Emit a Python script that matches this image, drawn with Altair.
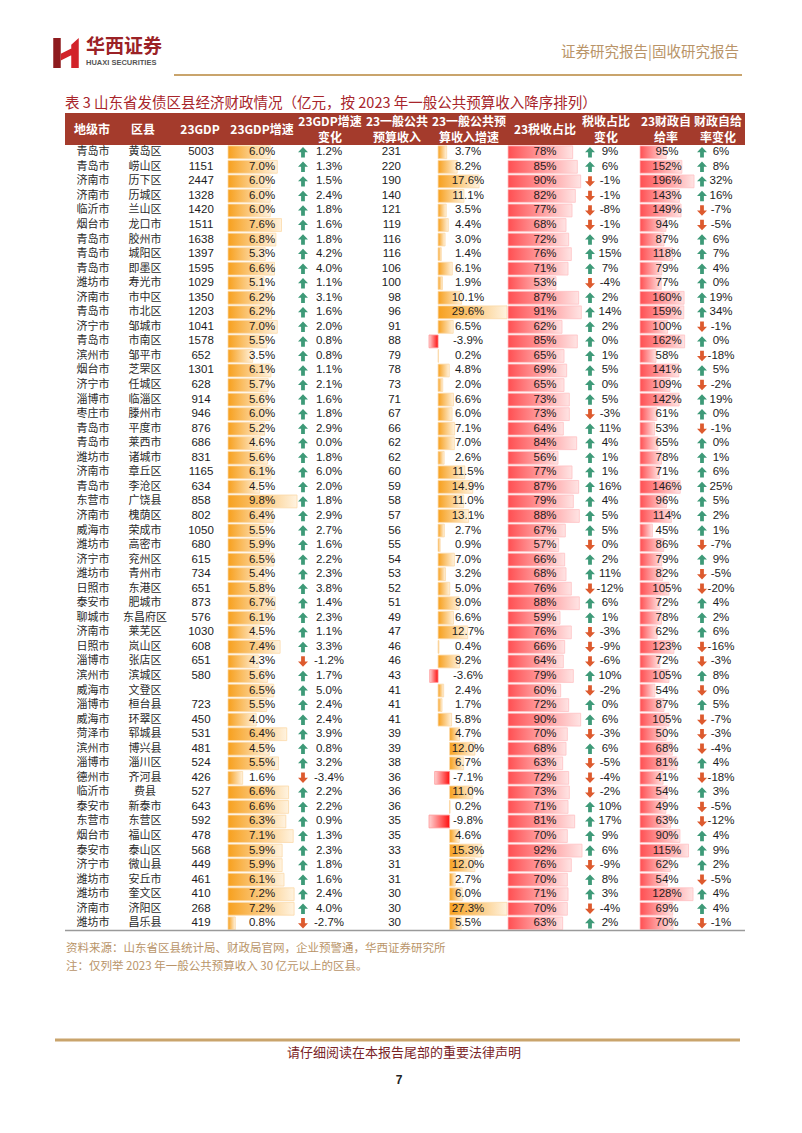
import math
import altair as alt
import pandas as pd

cities = ["青岛市","青岛市","济南市","济南市","临沂市","烟台市","青岛市","青岛市","青岛市","潍坊市",
          "济南市","青岛市","济宁市","青岛市","滨州市","烟台市","济宁市","淄博市","枣庄市","青岛市",
          "青岛市","潍坊市","济南市","青岛市","东营市","济南市","威海市","潍坊市","济宁市","潍坊市",
          "日照市","泰安市","聊城市","济南市","日照市","淄博市","滨州市","威海市","淄博市","威海市",
          "菏泽市","滨州市","淄博市","德州市","临沂市","泰安市","东营市","烟台市","泰安市","济宁市",
          "潍坊市","潍坊市","济南市","潍坊市"]
counties = ["黄岛区","崂山区","历下区","历城区","兰山区","龙口市","胶州市","城阳区","即墨区","寿光市",
            "市中区","市北区","邹城市","市南区","邹平市","芝罘区","任城区","临淄区","滕州市","平度市",
            "莱西市","诸城市","章丘区","李沧区","广饶县","槐荫区","荣成市","高密市","兖州区","青州市",
            "东港区","肥城市","东昌府区","莱芜区","岚山区","张店区","滨城区","文登区","桓台县","环翠区",
            "郓城县","博兴县","淄川区","齐河县","费县","新泰市","东营区","福山区","泰山区","微山县",
            "安丘市","奎文区","济阳区","昌乐县"]
gdp = [5003,1151,2447,1328,1420,1511,1638,1397,1595,1029,
       1350,1203,1041,1578,652,1301,628,914,946,876,
       686,831,1165,634,858,802,1050,680,615,734,
       651,873,576,1030,608,651,580,None,723,450,
       531,481,524,426,527,643,592,478,568,449,
       461,410,268,419]
gdp_growth = [6.0,7.0,6.0,6.0,6.0,7.6,6.8,5.3,6.6,5.1,
              6.2,6.2,7.0,5.5,3.5,6.1,5.7,5.6,6.0,5.2,
              4.6,5.6,6.1,4.5,9.8,6.4,5.5,5.9,6.5,5.4,
              5.8,6.7,6.1,4.5,7.4,4.3,5.6,6.5,5.5,4.0,
              6.4,4.5,5.5,1.6,6.6,6.6,6.3,7.1,5.9,5.9,
              6.1,7.2,7.2,0.8]
gdp_growth_chg = [1.2,1.3,1.5,2.4,1.8,1.6,1.8,4.2,4.0,1.1,
                  3.1,1.6,2.0,0.8,0.8,1.1,2.1,1.6,1.8,2.9,
                  0.0,1.8,6.0,2.0,1.8,2.9,2.7,1.6,2.2,2.3,
                  3.8,1.4,2.3,1.1,3.3,-1.2,1.7,5.0,2.4,2.4,
                  3.9,0.8,3.2,-3.4,2.2,2.2,0.9,1.3,2.3,1.8,
                  1.6,2.4,4.0,-2.7]
revenue = [231,220,190,140,121,119,116,116,106,100,
           98,96,91,88,79,78,73,71,67,66,
           62,62,60,59,58,57,56,55,54,53,
           52,51,49,47,46,46,43,41,41,41,
           39,39,38,36,36,36,35,35,33,31,
           31,30,30,30]
revenue_growth = [3.7,8.2,17.6,11.1,3.5,4.4,3.0,1.4,6.1,1.9,
                  10.1,29.6,6.5,-3.9,0.2,4.8,2.0,6.6,6.0,7.1,
                  7.0,2.6,11.5,14.9,11.0,13.1,2.7,0.9,7.0,3.2,
                  5.0,9.0,6.6,12.7,0.4,9.2,-3.6,2.4,1.7,5.8,
                  4.7,12.0,6.7,-7.1,11.0,0.2,-9.8,4.6,15.3,12.0,
                  2.7,6.0,27.3,5.5]
tax_share = [78,85,90,82,77,68,72,76,71,53,
             87,91,62,85,65,69,65,73,73,64,
             84,56,77,87,79,88,67,57,66,68,
             76,88,59,76,66,64,79,60,72,90,
             70,68,63,72,73,71,81,70,92,76,
             70,71,70,63]
tax_share_chg = [9,6,-1,-1,-8,-1,9,15,7,-4,
                 2,14,2,0,1,5,0,5,-3,11,
                 4,1,1,16,4,5,5,-0.0,2,11,
                 -12,6,1,-3,-9,-6,10,-2,0,6,
                 -3,6,-5,-4,-2,10,17,9,6,-9,
                 8,3,-4,2]
self_suff = [95,152,196,143,149,94,87,118,79,77,
             160,159,100,162,58,141,109,142,61,53,
             65,78,71,146,96,114,45,86,79,82,
             105,72,78,62,123,72,105,54,87,105,
             50,68,81,41,54,49,63,90,115,62,
             54,128,69,70]
self_suff_chg = [6,8,32,16,-7,-5,6,7,4,0,
                 19,34,-1,0,-18,5,-2,19,0,-1,
                 0,1,6,25,5,2,1,-7,9,-5,
                 -20,4,2,6,-16,-3,8,-0.0,5,-7,
                 -3,-4,4,-18,3,-5,-12,4,9,2,
                 -5,4,4,-1]

header_labels = [["地级市"], ["区县"], ["23GDP"], ["23GDP增速"], ["23GDP增速", "变化"],
                 ["23一般公共", "预算收入"], ["23一般公共预", "算收入增速"], ["23税收占比"],
                 ["税收占比", "变化"], ["23财政自", "给率"], ["财政自给", "率变化"]]

title_text = "表 3  山东省发债区县经济财政情况（亿元，按 2023 年一般公共预算收入降序排列）"
source_text = "资料来源：山东省区县统计局、财政局官网，企业预警通，华西证券研究所"
note_text = "注：仅列举 2023 年一般公共预算收入 30 亿元以上的区县。"
footer_text = "请仔细阅读在本报告尾部的重要法律声明"
page_no = "7"
brand_cn = "华西证券"
brand_en = "HUAXI SECURITIES"
report_type = "证券研究报告|固收研究报告"

# ---------------- layout / style ----------------
W, H = 786, 1110


def P(v):
    """page pixel -> chart pixel (page has an 8px margin)"""
    return v - 8


NUM_FONT = "Liberation Sans"
CJK_FONT = "Noto Sans CJK SC"
TXT = "#1d1d1d"
HDR = "#A43B2C"
TAN = "#B99468"
GREEN = "#3E9A78"
RED_ARROW = "#DD5A2E"

n = len(counties)
idx = list(range(n))
SPLIT = 40  # the conditional formatting of the source uses two ranges


def pct1(v):
    return f"{v:.1f}%"


def pct0(v):
    return f"{abs(v) if v == 0 else v:.0f}%"


def direction(v):
    return "up" if (v > 0 or (v == 0 and math.copysign(1, v) > 0)) else "down"


df = pd.DataFrame({
    "i": idx,
    "city": cities,
    "county": counties,
    "gdp_lbl": ["" if g is None else str(g) for g in gdp],
    "gg": gdp_growth,
    "gg_lbl": [pct1(v) for v in gdp_growth],
    "gc_lbl": [pct1(v) for v in gdp_growth_chg],
    "gc_dir": [direction(v) for v in gdp_growth_chg],
    "rev_lbl": [str(v) for v in revenue],
    "rg": revenue_growth,
    "rg_lbl": [pct1(v) for v in revenue_growth],
    "ts": tax_share,
    "ts_lbl": [f"{v}%" for v in tax_share],
    "tc_lbl": [pct0(v) for v in tax_share_chg],
    "tc_dir": [direction(v) for v in tax_share_chg],
    "ss": self_suff,
    "ss_lbl": [f"{v}%" for v in self_suff],
    "sc_lbl": [pct0(v) for v in self_suff_chg],
    "sc_dir": [direction(v) for v in self_suff_chg],
})
g1 = df[df.i < SPLIT]
g2 = df[df.i >= SPLIT]

YS = alt.Scale(domain=idx, range=[P(145), P(930.6)], paddingInner=0.12, paddingOuter=0.06)
Y = alt.Y("i:O", scale=YS, axis=None)


def grad(c0, c1):
    return alt.LinearGradient(gradient="linear",
                              stops=[alt.GradientStop(color=c0, offset=0),
                                     alt.GradientStop(color=c1, offset=1)],
                              x1=0, x2=1, y1=0, y2=0)


ORANGE = grad("#F7A01E", "#FFF3E0")
PINK = grad("#FF4F52", "#FFE4E4")
NEG = grad("#FFD2D2", "#FF1010")


def bars(data, field, dom, rng, base, fill, stroke):
    return alt.Chart(data).mark_bar(fill=fill, stroke=stroke, strokeWidth=0.8).encode(
        x=alt.X(f"{field}:Q", scale=alt.Scale(domain=dom, range=rng, nice=False, zero=False), axis=None),
        x2=alt.datum(base),
        y=Y,
    )


def col_text(field, x, align="center", font=NUM_FONT, size=11.5, color=TXT):
    return alt.Chart(df).mark_text(align=align, baseline="middle", font=font, fontSize=size, color=color).encode(
        x=alt.value(P(x)), y=Y, text=f"{field}:N")


UP = "M0,-1 L0.95,0 L0.36,0 L0.36,1 L-0.36,1 L-0.36,0 L-0.95,0 Z"
DOWN = "M0,1 L0.95,0 L0.36,0 L0.36,-1 L-0.36,-1 L-0.36,0 L-0.95,0 Z"


def arrows(field, x):
    return alt.Chart(df).mark_point(filled=True, size=110, opacity=1, strokeWidth=0).encode(
        x=alt.value(P(x)), y=Y,
        shape=alt.Shape(f"{field}:N", scale=alt.Scale(domain=["up", "down"], range=[UP, DOWN]), legend=None),
        color=alt.Color(f"{field}:N", scale=alt.Scale(domain=["up", "down"], range=[GREEN, RED_ARROW]), legend=None),
    )


one = pd.DataFrame({"a": [0]})


def deco_text(text, x, y, size, color, font=CJK_FONT, align="left", weight="normal", baseline="middle"):
    return alt.Chart(one).mark_text(text=text, align=align, baseline=baseline, font=font, fontSize=size,
                                    color=color, fontWeight=weight).encode(x=alt.value(P(x)), y=alt.value(P(y)))


def hline(x1, x2, y, color, w):
    return alt.Chart(one).mark_rule(color=color, strokeWidth=w).encode(
        x=alt.value(P(x1)), x2=alt.value(P(x2)), y=alt.value(P(y)))


layers = []

# page header
logo_dark = "M-0.85,-1 L-0.35,-1 L-0.35,1 L-0.85,1 Z"
logo_red = "M0.35,-0.55 L0.85,-1 L0.85,1 L0.35,1 Z M-0.35,0.05 L0.35,-0.3 L0.35,0.15 L-0.35,0.5 Z"
layers.append(alt.Chart(one).mark_point(shape=logo_dark, size=900, filled=True, color="#8E1B1E", opacity=1)
              .encode(x=alt.value(P(66)), y=alt.value(P(53))))
layers.append(alt.Chart(one).mark_point(shape=logo_red, size=900, filled=True, color="#D2232A", opacity=1)
              .encode(x=alt.value(P(66)), y=alt.value(P(53))))
layers.append(deco_text(brand_cn, 86, 47, 19, "#9B2226", weight="bold"))
layers.append(deco_text(brand_en, 86, 63, 7.5, "#555555", font=NUM_FONT, weight="bold"))
layers.append(deco_text(report_type, 739, 53, 14.5, TAN, align="right"))
layers.append(hline(174, 742, 75, "#C9A46C", 2))

# title
layers.append(deco_text(title_text, 65, 104, 14.5, "#A8252B"))

# table header
layers.append(alt.Chart(one).mark_rect(color=HDR).encode(
    x=alt.value(P(65)), x2=alt.value(P(745)), y=alt.value(P(113)), y2=alt.value(P(145))))
hdr_x = [92, 143, 200, 262, 330, 397, 469, 545, 606, 666, 718]
for lines, hx in zip(header_labels, hdr_x):
    ys = [129.5] if len(lines) == 1 else [122, 137.5]
    for ln, hy in zip(lines, ys):
        layers.append(deco_text(ln, hx, hy, 12, "white", align="center", weight="bold"))

# data bars
layers.append(bars(g1, "gg", [0, 9.8], [P(228), P(297)], 0, ORANGE, "#FBD9A8"))
layers.append(bars(g2, "gg", [0, 7.3], [P(228), P(295)], 0, ORANGE, "#FBD9A8"))
layers.append(bars(g1[g1.rg >= 0], "rg", [-3.9, 29.6], [P(429), P(507)], 0, ORANGE, "#FBD9A8"))
layers.append(bars(g1[g1.rg < 0], "rg", [-3.9, 29.6], [P(429), P(507)], 0, NEG, "#FF9A9A"))
layers.append(bars(g2[g2.rg >= 0], "rg", [-9.8, 27.3], [P(429), P(507)], 0, ORANGE, "#FBD9A8"))
layers.append(bars(g2[g2.rg < 0], "rg", [-9.8, 27.3], [P(429), P(507)], 0, NEG, "#FF9A9A"))
layers.append(bars(df, "ts", [-19, 92], [P(508), P(582)], -19, PINK, "#FFC2C4"))
layers.append(bars(g1, "ss", [0, 196], [P(640), P(694)], 0, PINK, "#FFC2C4"))
layers.append(bars(g2, "ss", [-26, 128], [P(640), P(693)], -26, PINK, "#FFC2C4"))

# texts
layers.append(col_text("city", 93, font=CJK_FONT, size=11, color="#2a2a2a"))
layers.append(col_text("county", 145, font=CJK_FONT, size=11, color="#2a2a2a"))
layers.append(col_text("gdp_lbl", 201))
layers.append(col_text("gg_lbl", 262))
layers.append(arrows("gc_dir", 303))
layers.append(col_text("gc_lbl", 329))
layers.append(col_text("rev_lbl", 401, align="right"))
layers.append(col_text("rg_lbl", 468))
layers.append(col_text("ts_lbl", 545))
layers.append(arrows("tc_dir", 590))
layers.append(col_text("tc_lbl", 610))
layers.append(col_text("ss_lbl", 667))
layers.append(arrows("sc_dir", 702))
layers.append(col_text("sc_lbl", 721))

# bottom rule and notes
layers.append(hline(65, 745, 930.5, "#9A9A9A", 1.5))
layers.append(deco_text(source_text, 66, 949, 11.5, TAN))
layers.append(deco_text(note_text, 66, 967, 11.5, TAN))

# page footer
layers.append(hline(55, 740, 1040, "#C9A46C", 3))
layers.append(deco_text(footer_text, 404, 1053, 13, "#7B2326", align="center"))
layers.append(deco_text(page_no, 399, 1080, 12, "#222222", font=NUM_FONT, align="center", weight="bold"))

chart = (alt.layer(*layers)
         .resolve_scale(x="independent")
         .properties(width=W, height=H, autosize=alt.AutoSizeParams(type="none"), padding=0)
         .configure_view(stroke=None))

chart.save("out.html", embed_options={"renderer": "svg", "actions": False})
